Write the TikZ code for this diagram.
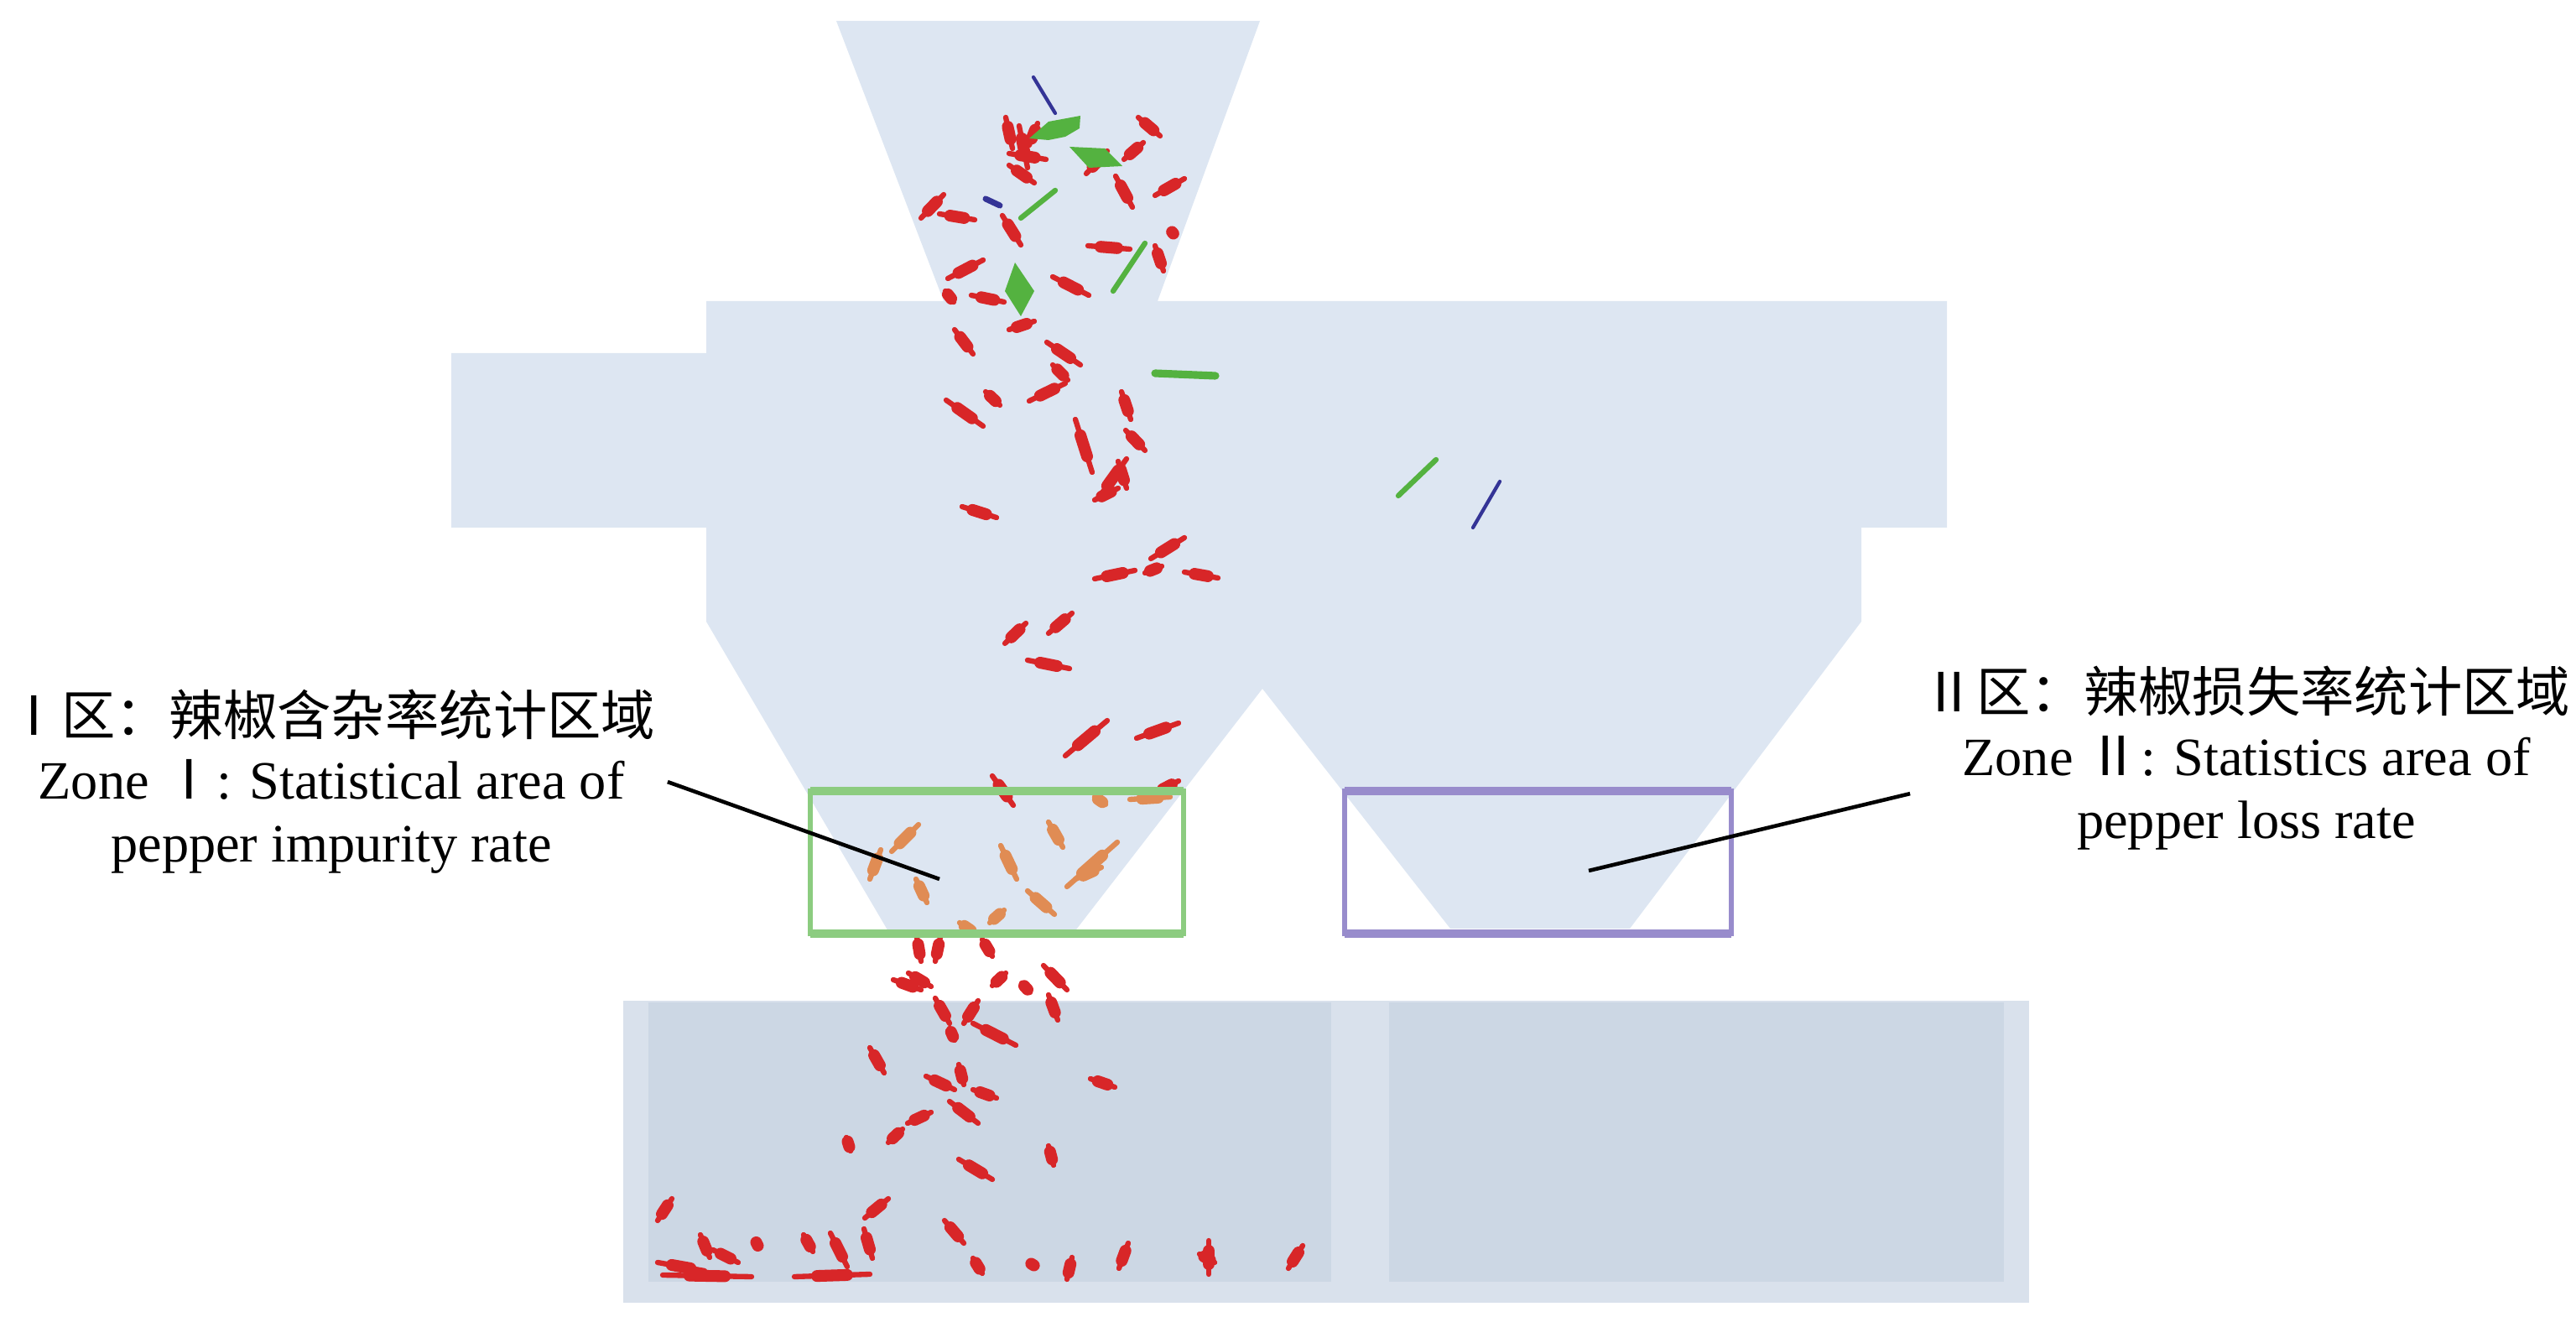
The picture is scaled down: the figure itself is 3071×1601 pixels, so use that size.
\documentclass[tikz,border=0pt]{standalone}
\usepackage{fontspec}
\setmainfont{Liberation Serif}
\newfontfamily\cjk{Noto Sans CJK SC}
\usepackage{tikz}
\usetikzlibrary{calc}
\definecolor{hop}{RGB}{221,230,242}
\definecolor{binout}{RGB}{217,225,236}
\definecolor{binin}{RGB}{204,215,228}
\definecolor{pepred}{RGB}{216,38,40}
\definecolor{peporg}{RGB}{224,140,84}
\definecolor{impgreen}{RGB}{84,178,64}
\definecolor{impblue}{RGB}{52,52,150}
\definecolor{zonegreen}{RGB}{140,204,128}
\definecolor{zonepurple}{RGB}{152,140,204}
\tikzset{
	rpep/.style={pepred,line width=1.8pt,line cap=round},
	rcore/.style={pepred,line width=4pt,line cap=round},
	opep/.style={peporg,line width=1.8pt,line cap=round},
	ocore/.style={peporg,line width=4pt,line cap=round},
	gimp/.style={impgreen,line width=1.8pt,line cap=round},
	bimp/.style={impblue,line width=1.2pt,line cap=round},
	zonebox/.style={draw=#1,line width=1.5pt},
	zoneedge/.style={draw=#1,line width=2.6pt},
	label/.style={align=center,inner sep=4pt,font=\fontsize{18.3}{21.5}\selectfont},
	leader/.style={black,line width=1.3pt}
}
\begin{document}
\begin{tikzpicture}[x=0.01cm,y=-0.01cm]
						\useasboundingbox (0,0) rectangle (3071,1601);

						% separator and bins
						\fill[hop] (997,25) -- (1502,25) -- (1380,359) -- (2321,359) -- (2321,629) -- (2219,629) -- (2219,741)
							-- (1943,1107) -- (1729,1107) -- (1505,821) -- (1280,1112) -- (1060,1112) -- (842,741)
							-- (842,629) -- (538,629) -- (538,421) -- (842,421) -- (842,359) -- (1125,359) -- cycle;
						\fill[binout] (743,1193) rectangle (2419,1553);
						\fill[binin] (773,1195) rectangle (1587,1528);
						\fill[binin] (1656,1195) rectangle (2389,1528);

						% peppers
						\foreach \xa/\ya/\xb/\yb in {1199/140/1207/177, 1227/173/1237/147, 1203/183/1247/190, 1203/197/1233/218,
							1215/150/1225/200, 1357/140/1383/162, 1340/190/1363/170, 1330/210/1350/247, 1377/233/1412/213,
							1295/207/1320/180, 1098/260/1125/232, 1120/255/1162/262, 1195/257/1217/292, 1297/293/1347/297,
							1377/293/1387/323, 1396/275/1400/280, 1130/332/1172/310, 1127/347/1137/360, 1158/352/1197/360,
							1255/330/1298/352, 1203/393/1233/383, 1138/393/1160/422, 1248/408/1288/435, 1255/435/1273/453,
							1227/478/1270/457, 1128/477/1172/508, 1175/467/1192/483, 1337/467/1348/500, 1342/513/1365/537,
							1282/500/1302/563, 1310/593/1343/547, 1333/550/1343/582, 1305/596/1333/582, 1147/604/1188/617,
							1372/666/1412/641, 1365/683/1385/675, 1305/690/1353/680, 1412/682/1452/689, 1198/767/1223/743,
							1250/755/1278/731, 1225/787/1275/797, 1270/901/1320/859, 1355/880/1405/862, 1183/925/1208/960,
							1378/945/1405/931,
							1093/1117/1098/1146, 1121/1117/1115/1146, 1171/1120/1183/1140, 1065/1168/1098/1180, 1083/1160/1110/1176,
							1183/1175/1199/1160, 1244/1151/1272/1180, 1218/1172/1228/1183, 1115/1190/1132/1220, 1166/1193/1149/1220,
							1250/1186/1261/1216, 1160/1220/1211/1246, 1132/1226/1138/1240, 1037/1249/1054/1279, 1104/1283/1138/1299,
							1143/1269/1149/1293, 1160/1299/1188/1309, 1300/1286/1329/1296, 1082/1339/1110/1326, 1132/1313/1166/1339,
							1009/1356/1014/1372, 1059/1362/1076/1346, 1143/1382/1183/1406, 1250/1366/1256/1389, 784/1455/801/1429,
							1031/1452/1059/1429, 784/1505/840/1515, 790/1520/896/1522, 835/1472/846/1499, 850/1490/880/1505,
							900/1478/905/1488, 958/1472/969/1492, 947/1522/1037/1519, 990/1470/1010/1510, 1030/1465/1040/1500,
							1126/1455/1149/1482, 1160/1500/1171/1518, 1227/1505/1235/1510, 1278/1499/1272/1525, 1345/1482/1334/1512,
							1441/1479/1441/1519, 1430/1495/1448/1505, 1553/1485/1536/1512}
							{\draw[rpep] (\xa,\ya) -- (\xb,\yb);
							\draw[rcore] ($(\xa,\ya)!0.3!(\xb,\yb)$) -- ($(\xa,\ya)!0.7!(\xb,\yb)$);}
						\foreach \xa/\ya/\xb/\yb in {1305/950/1318/959, 1347/953/1395/950, 1063/1015/1095/983, 1037/1048/1050/1013,
							1092/1048/1105/1076, 1250/980/1267/1010, 1193/1008/1212/1048, 1272/1057/1332/1004, 1282/1048/1313/1034,
							1225/1062/1257/1090, 1180/1100/1197/1085, 1144/1100/1163/1113}
							{\draw[opep] (\xa,\ya) -- (\xb,\yb);
							\draw[ocore] ($(\xa,\ya)!0.3!(\xb,\yb)$) -- ($(\xa,\ya)!0.7!(\xb,\yb)$);}

						% impurities
						\fill[impgreen] (1227,165) -- (1250,145) -- (1288,138) -- (1287,153) -- (1270,163) -- (1250,167) -- cycle;
						\fill[impgreen] (1275,175) -- (1317,177) -- (1338,198) -- (1298,200) -- cycle;
						\fill[impgreen] (1210,313) -- (1198,347) -- (1217,377) -- (1233,347) -- cycle;
						\draw[gimp] (1217,260) -- (1258,227);
						\draw[gimp] (1327,347) -- (1365,290);
						\draw[gimp,line width=2.6pt] (1377,445) -- (1449,448);
						\draw[gimp] (1667,591) -- (1712,548);
						\draw[bimp] (1232,92) -- (1258,135);
						\draw[bimp,line width=2pt] (1175,237) -- (1192,245);
						\draw[bimp] (1756,629) -- (1788,574);

						% statistic zones
						\draw[zonebox=zonegreen] (966,943) rectangle (1411,1113);
						\draw[zoneedge=zonegreen] (966,943) -- (1411,943) (966,1113) -- (1411,1113);
						\draw[zonebox=zonepurple] (1603,943) rectangle (2064,1113);
						\draw[zoneedge=zonepurple] (1603,943) -- (2064,943) (1603,1113) -- (2064,1113);

						\node[label,anchor=base] (zoneAtext) at (395,1028) {{\cjk Ⅰ区：辣椒含杂率统计区域}\\Zone {\cjk Ⅰ}: Statistical area of\\pepper impurity rate};
						\node[label,anchor=base] (zoneBtext) at (2678,1000) {{\cjk Ⅱ区：辣椒损失率统计区域}\\Zone {\cjk Ⅱ}: Statistics area of\\pepper loss rate};
						\coordinate (tipA) at (1120,1048);
						\coordinate (tipB) at (1894,1038);
						\draw[leader] (zoneAtext.east) -- (tipA);
						\draw[leader] (zoneBtext.186) -- (tipB);
					\end{tikzpicture}
\end{document}
